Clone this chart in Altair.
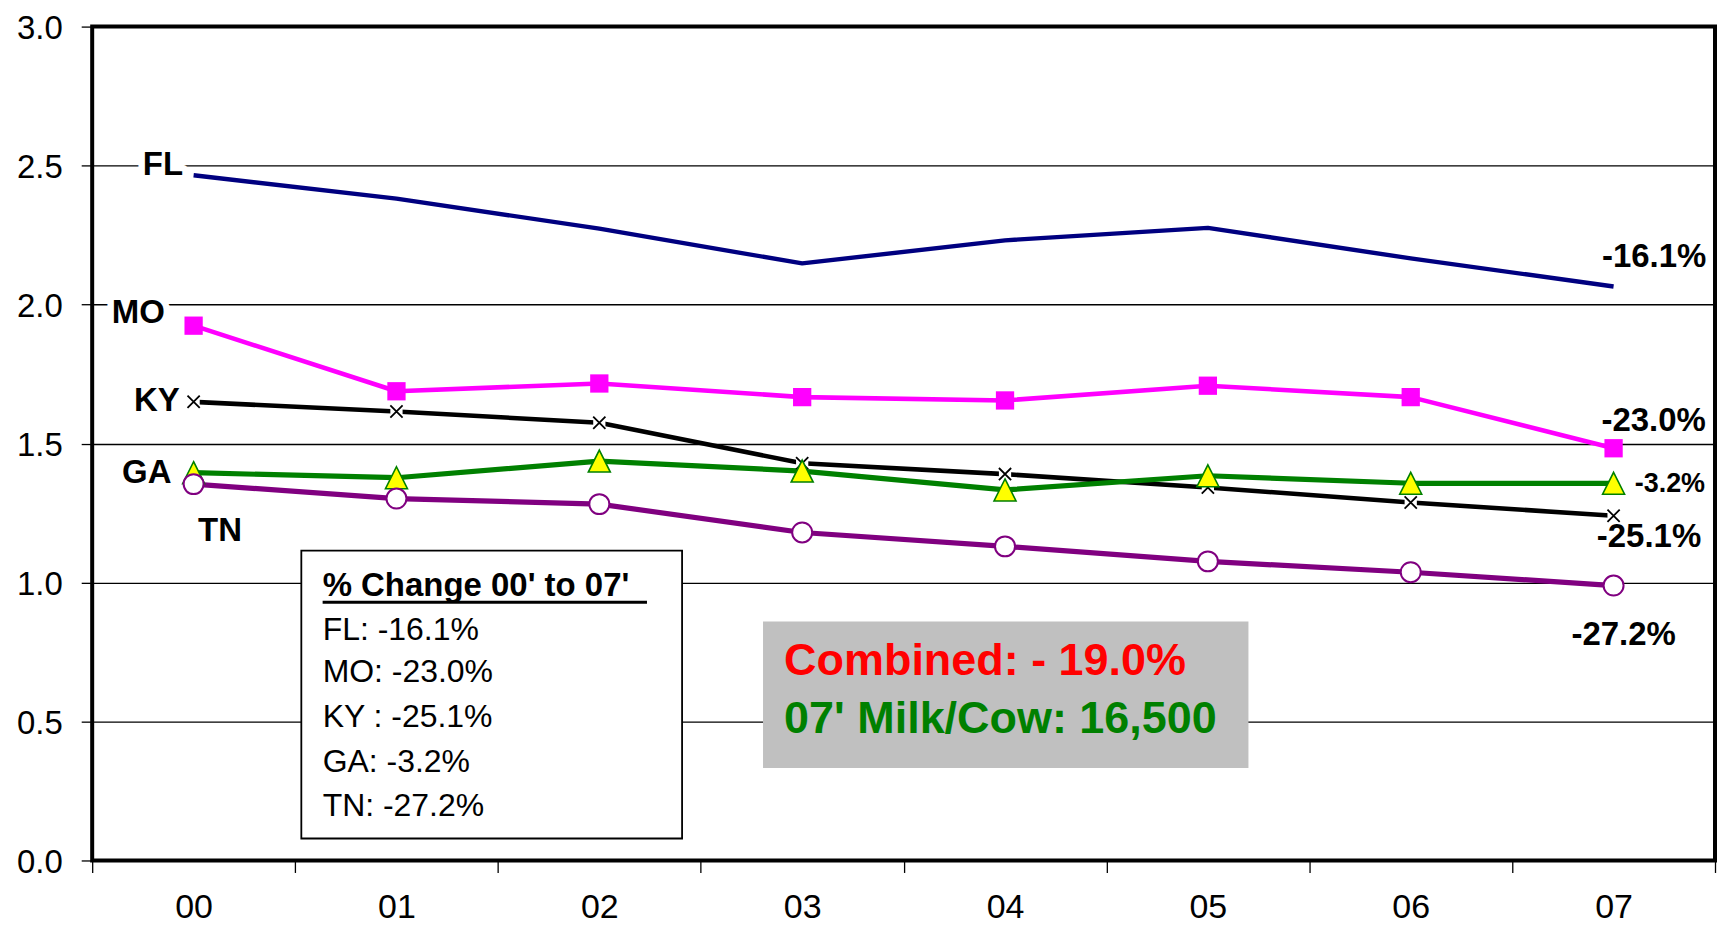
import altair as alt
import pandas as pd

FONT = "Liberation Sans"

# ---------------- data ----------------
years = ["00", "01", "02", "03", "04", "05", "06", "07"]
states = ["FL", "MO", "KY", "GA", "TN"]
fl = [2.465, 2.381, 2.273, 2.148, 2.231, 2.276, 2.166, 2.065]
mo = [1.924, 1.688, 1.716, 1.667, 1.655, 1.708, 1.667, 1.483]
ky = [1.650, 1.615, 1.575, 1.429, 1.390, 1.342, 1.288, 1.240]
ga = [1.395, 1.377, 1.437, 1.401, 1.333, 1.384, 1.357, 1.357]
tn = [1.354, 1.302, 1.282, 1.180, 1.130, 1.076, 1.037, 0.989]
line_colors = ["#000080", "#FF00FF", "#000000", "#008000", "#800080"]
line_widths = [4.4, 4.6, 4.6, 5.2, 5.2]

y_ticks = [0.0, 0.5, 1.0, 1.5, 2.0, 2.5, 3.0]

# series name tags (position in category units / value units)
tag_text = ["FL", "MO", "KY", "GA"]
tag_u = [-0.052, -0.142, -0.068, -0.109]
tag_v = [2.465, 1.935, 1.616, 1.358]
tn_tag_text = ["TN"]
tn_tag_u = [0.022]
tn_tag_v = [1.151]

# end-of-line % change labels
pct_text = ["-16.1%", "-23.0%", "-25.1%", "-27.2%"]
pct_u = [7.457, 7.455, 7.432, 7.307]
pct_v = [2.136, 1.545, 1.127, 0.774]
ga_pct_text = ["-3.2%"]
ga_pct_u = [7.104]
ga_pct_v = [1.324]

# legend box
legend_box_u = [0.531, 2.408]
legend_box_v = [1.115, 0.079]
legend_title = ["% Change 00' to 07'"]
legend_text_u = 0.636
legend_title_v = [0.953]
legend_underline_u = [0.636, 2.235]
legend_underline_v = [0.929]
legend_rows = ["FL: -16.1%", "MO: -23.0%", "KY : -25.1%", "GA: -3.2%", "TN: -27.2%"]
legend_rows_v = [0.792, 0.643, 0.481, 0.320, 0.159]

# grey summary box
summary_box_u = [2.807, 5.200]
summary_box_v = [0.860, 0.333]
summary_text = ["Combined: - 19.0%", "07' Milk/Cow: 16,500"]
summary_colors = ["#FF0000", "#008000"]
summary_u = 2.911
summary_v = [0.667, 0.459]

# ---------------- tables ----------------
series = [fl, mo, ky, ga, tn]
rows = []
for s, vals in zip(states, series):
    for y, v in zip(years, vals):
        rows.append({"year": y, "state": s, "value": v})
lines_df = pd.DataFrame(rows)

# ---------------- scales / axes ----------------
yscale = alt.Scale(domain=[0, 3], nice=False, zero=True)
yaxis = alt.Axis(values=y_ticks, format=".1f", title=None, grid=True,
                 gridColor="#000000", gridWidth=1.4, gridOpacity=1,
                 domain=False, ticks=True, tickColor="#000000", tickSize=11,
                 tickWidth=1.3, labelFontSize=33, labelColor="#000000",
                 labelFont=FONT, labelPadding=19, labelOffset=2)
ann_x = alt.Scale(domain=[-0.5, 7.5], nice=False, zero=False)

xband = alt.X("year:O",
              scale=alt.Scale(type="band", domain=years, paddingInner=0, paddingOuter=0),
              axis=alt.Axis(title=None, labelAngle=0, labelFontSize=34, labelColor="#000000",
                            labelFont=FONT, labelPadding=18, tickBand="extent", tickSize=12,
                            tickColor="#000000", tickWidth=1.3, domain=False, grid=False))


def Y(field):
    return alt.Y(f"{field}:Q", scale=yscale, axis=yaxis)


def U(field):
    return alt.X(f"{field}:Q", scale=ann_x, axis=None)


def U2(field):
    return alt.X2(f"{field}:Q")


# ---------------- boxes (under lines) ----------------
legend_box_df = pd.DataFrame([{"u0": legend_box_u[0], "u1": legend_box_u[1],
                               "v0": legend_box_v[0], "v1": legend_box_v[1]}])
summary_box_df = pd.DataFrame([{"u0": summary_box_u[0], "u1": summary_box_u[1],
                                "v0": summary_box_v[0], "v1": summary_box_v[1]}])

legend_box = alt.Chart(legend_box_df).mark_rect(fill="#FFFFFF", stroke="#000000", strokeWidth=1.8).encode(
    x=U("u0"), x2=U2("u1"), y=Y("v0"), y2=alt.Y2("v1:Q"))
summary_box = alt.Chart(summary_box_df).mark_rect(fill="#C0C0C0", strokeWidth=0).encode(
    x=U("u0"), x2=U2("u1"), y=Y("v0"), y2=alt.Y2("v1:Q"))
underline_df = pd.DataFrame([{"u0": legend_underline_u[0], "u1": legend_underline_u[1],
                              "v": legend_underline_v[0]}])
underline = alt.Chart(underline_df).mark_rule(color="#000000", strokeWidth=3).encode(
    x=U("u0"), x2=U2("u1"), y=Y("v"))

boxes = alt.layer(legend_box, summary_box, underline)


# ---------------- data lines + markers ----------------
def sel(state):
    return alt.Chart(lines_df).transform_filter(alt.datum.state == state)


line_layers = [
    sel(s).mark_line(color=c, strokeWidth=w, strokeJoin="round").encode(x=xband, y=Y("value"))
    for s, c, w in zip(states, line_colors, line_widths)
]

mo_pts = sel("MO").mark_point(shape="square", fill="#FF00FF", stroke="#FF00FF", strokeWidth=0,
                              size=335, opacity=1, filled=True).encode(x=xband, y=Y("value"))
ky_bg = sel("KY").mark_point(shape="square", fill="#FFFFFF", strokeWidth=0,
                             size=150, opacity=1, filled=True).encode(x=xband, y=Y("value"))
ky_pts = sel("KY").mark_point(shape="M-1,-1L1,1M1,-1L-1,1", stroke="#000000", strokeWidth=1.8,
                              size=150, opacity=1, filled=False).encode(x=xband, y=Y("value"))
ga_pts = sel("GA").mark_point(shape="M0,-1L1,1L-1,1Z", fill="#FFFF00", stroke="#008000",
                              strokeWidth=1.6, size=484, opacity=1).encode(x=xband, y=Y("value"))
tn_pts = sel("TN").mark_point(shape="circle", fill="#FFFFFF", stroke="#800080", strokeWidth=2,
                              size=400, opacity=1).encode(x=xband, y=Y("value"))

data_layer = alt.layer(*line_layers, mo_pts, ky_bg, ky_pts, ga_pts, tn_pts)

# ---------------- texts ----------------
tags_df = pd.DataFrame({"t": tag_text, "u": tag_u, "v": tag_v})
tn_df = pd.DataFrame({"t": tn_tag_text, "u": tn_tag_u, "v": tn_tag_v})
pct_df = pd.DataFrame({"t": pct_text, "u": pct_u, "v": pct_v})
gap_df = pd.DataFrame({"t": ga_pct_text, "u": ga_pct_u, "v": ga_pct_v})
ltitle_df = pd.DataFrame({"t": legend_title, "u": [legend_text_u], "v": legend_title_v})
lrows_df = pd.DataFrame({"t": legend_rows, "u": [legend_text_u] * len(legend_rows), "v": legend_rows_v})
summ_df = pd.DataFrame({"t": summary_text, "u": [summary_u] * 2, "v": summary_v, "c": summary_colors})


def txt(df, align, size, bold=True, **kw):
    return alt.Chart(df).mark_text(align=align, baseline="alphabetic", font=FONT,
                                   fontSize=size, fontWeight="bold" if bold else "normal",
                                   **kw).encode(x=U("u"), y=Y("v"), text="t:N")


tags_halo = txt(tags_df, "right", 33, stroke="#FFFFFF", strokeWidth=13, strokeJoin="round", fill="#FFFFFF")
tags = txt(tags_df, "right", 33, fill="#000000")
tn_tag = txt(tn_df, "left", 33, fill="#000000")
pcts = txt(pct_df, "right", 33, fill="#000000")
ga_pct = txt(gap_df, "left", 27, fill="#000000")
ltitle = txt(ltitle_df, "left", 33, fill="#000000")
lrows = txt(lrows_df, "left", 32, bold=False, fill="#000000")
summ = alt.Chart(summ_df).mark_text(align="left", baseline="alphabetic", font=FONT, fontSize=45,
                                    fontWeight="bold").encode(
    x=U("u"), y=Y("v"), text="t:N", color=alt.Color("c:N", scale=None))

texts = alt.layer(tags_halo, tags, tn_tag, pcts, ga_pct, ltitle, lrows, summ)

chart = alt.layer(boxes, data_layer, texts).resolve_scale(x="independent").properties(
    width=1625, height=835,
    autosize=alt.AutoSizeParams(type="none"),
    padding={"left": 84.3, "top": 18, "right": 4, "bottom": 64},
    background="#FFFFFF",
).configure(font=FONT).configure_view(stroke="#000000", strokeWidth=4)

chart.save("out.html", embed_options={"renderer": "svg", "actions": False})
